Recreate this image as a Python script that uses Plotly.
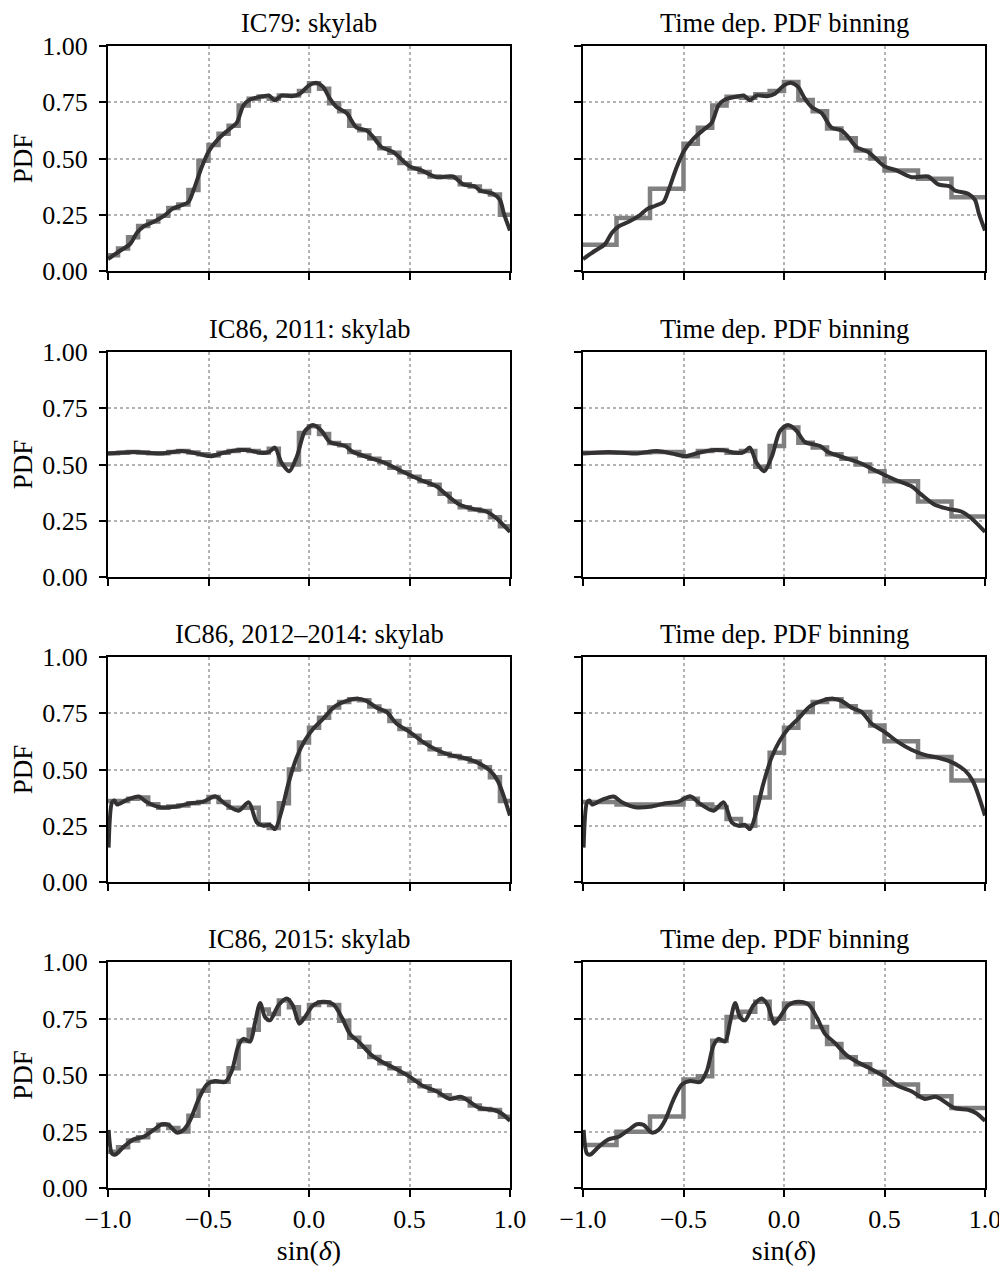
import numpy as np
import plotly.graph_objects as go
from plotly.subplots import make_subplots

# ---------------- data ----------------
titles_left = ["IC79: skylab", "IC86, 2011: skylab", "IC86, 2012\u20132014: skylab", "IC86, 2015: skylab"]
title_right = "Time dep. PDF binning"

x_ticks = [-1.0, -0.5, 0.0, 0.5, 1.0]
y_ticks = [0.0, 0.25, 0.5, 0.75, 1.0]

# fine binning (left column)
fine_edges = [round(-1 + 0.05 * i, 3) for i in range(41)]
# coarse time-dependent binning (right column)
coarse_edges = [-1.0, -0.8333, -0.6667, -0.5, -0.4286, -0.3571, -0.2857, -0.2143, -0.1429,
                -0.0714, 0.0, 0.0714, 0.1429, 0.2143, 0.2857, 0.3571, 0.4286, 0.5,
                0.6667, 0.8333, 1.0]

# Row 1: IC79
line1_x = [-1.0, -0.94, -0.89, -0.856, -0.82, -0.77, -0.72, -0.68, -0.64, -0.6, -0.575, -0.54,
           -0.5, -0.45, -0.4, -0.36, -0.326, -0.293, -0.227, -0.2, -0.17, -0.136, -0.086,
           -0.045, 0.0, 0.038, 0.07, 0.104, 0.137, 0.187, 0.237, 0.286, 0.32, 0.36, 0.419,
           0.5, 0.56, 0.634, 0.717, 0.767, 0.825, 0.85, 0.916, 0.95, 0.97, 1.0]
line1_y = [0.053, 0.09, 0.12, 0.17, 0.2, 0.22, 0.246, 0.276, 0.29, 0.306, 0.358, 0.447,
           0.53, 0.588, 0.628, 0.658, 0.736, 0.762, 0.777, 0.78, 0.759, 0.78, 0.777,
           0.788, 0.825, 0.836, 0.818, 0.766, 0.729, 0.702, 0.637, 0.625, 0.595, 0.551, 0.529,
           0.465, 0.447, 0.417, 0.42, 0.385, 0.376, 0.358, 0.343, 0.316, 0.254, 0.18]
fine1 = [0.07, 0.10, 0.15, 0.20, 0.22, 0.245, 0.28, 0.295, 0.36, 0.49,
         0.56, 0.61, 0.645, 0.735, 0.765, 0.775, 0.765, 0.78, 0.78, 0.80,
         0.835, 0.81, 0.745, 0.71, 0.645, 0.625, 0.59, 0.545, 0.525, 0.48,
         0.455, 0.44, 0.42, 0.418, 0.415, 0.385, 0.375, 0.355, 0.34, 0.25]
coarse1 = [0.117, 0.236, 0.365, 0.566, 0.637, 0.736, 0.774, 0.77, 0.785, 0.80,
           0.84, 0.76, 0.71, 0.633, 0.59, 0.536, 0.50, 0.447, 0.41, 0.328]

# Row 2: IC86, 2011
line2_x = [-1.0, -0.873, -0.74, -0.632, -0.558, -0.49, -0.425, -0.343, -0.3, -0.243, -0.2,
           -0.17, -0.136, -0.098, -0.06, -0.02, 0.02, 0.063, 0.104, 0.18, 0.22, 0.3, 0.37,
           0.45, 0.55, 0.634, 0.684, 0.75, 0.816, 0.882, 0.932, 1.0]
line2_y = [0.549, 0.556, 0.549, 0.56, 0.549, 0.537, 0.552, 0.564, 0.563, 0.552, 0.555,
           0.575, 0.507, 0.47, 0.537, 0.649, 0.675, 0.649, 0.6, 0.582, 0.555, 0.53, 0.51,
           0.475, 0.433, 0.403, 0.366, 0.321, 0.303, 0.291, 0.261, 0.2]
fine2 = [0.55, 0.552, 0.555, 0.553, 0.55, 0.55, 0.555, 0.56, 0.553, 0.545,
         0.54, 0.552, 0.56, 0.565, 0.56, 0.553, 0.57, 0.50, 0.50, 0.64,
         0.67, 0.635, 0.595, 0.585, 0.555, 0.54, 0.525, 0.51, 0.485, 0.465,
         0.445, 0.425, 0.41, 0.37, 0.335, 0.31, 0.30, 0.293, 0.265, 0.225]
coarse2 = [0.552, 0.553, 0.555, 0.537, 0.56, 0.564, 0.552, 0.56, 0.49, 0.582,
           0.664, 0.597, 0.575, 0.545, 0.525, 0.50, 0.47, 0.425, 0.336, 0.269]

# Row 3: IC86, 2012-2014
line3_x = [-0.997, -0.98, -0.968, -0.955, -0.906, -0.848, -0.806, -0.74, -0.657, -0.59, -0.525,
           -0.467, -0.417, -0.35, -0.3, -0.26, -0.227, -0.194, -0.169, -0.136, -0.103,
           -0.061, -0.02, 0.022, 0.071, 0.129, 0.187, 0.245, 0.286, 0.336, 0.386, 0.435,
           0.5, 0.568, 0.634, 0.7, 0.767, 0.833, 0.9, 0.94, 1.0]
line3_y = [0.153, 0.354, 0.362, 0.344, 0.365, 0.38, 0.354, 0.332, 0.336, 0.35, 0.357,
           0.381, 0.347, 0.317, 0.354, 0.265, 0.25, 0.254, 0.235, 0.317, 0.436,
           0.555, 0.63, 0.682, 0.726, 0.781, 0.805, 0.815, 0.805, 0.775, 0.756, 0.704,
           0.667, 0.622, 0.588, 0.565, 0.552, 0.533, 0.496, 0.448, 0.295]
fine3 = [0.36, 0.36, 0.37, 0.375, 0.345, 0.33, 0.335, 0.34, 0.35, 0.355,
         0.378, 0.355, 0.33, 0.33, 0.33, 0.255, 0.24, 0.35, 0.50, 0.62,
         0.685, 0.73, 0.775, 0.80, 0.812, 0.808, 0.78, 0.76, 0.715, 0.68,
         0.65, 0.62, 0.59, 0.57, 0.56, 0.55, 0.535, 0.51, 0.465, 0.36]
coarse3 = [0.355, 0.344, 0.344, 0.37, 0.344, 0.332, 0.28, 0.25, 0.376, 0.574,
           0.686, 0.756, 0.80, 0.8125, 0.781, 0.756, 0.696, 0.626, 0.555, 0.451]

# Row 4: IC86, 2015
line4_x = [-0.997, -0.98, -0.964, -0.922, -0.873, -0.823, -0.773, -0.732, -0.699, -0.657,
           -0.624, -0.591, -0.55, -0.508, -0.467, -0.417, -0.384, -0.351, -0.326, -0.293,
           -0.268, -0.243, -0.219, -0.194, -0.152, -0.111, -0.081, -0.048, -0.02, 0.022,
           0.071, 0.121, 0.162, 0.204, 0.253, 0.311, 0.369, 0.419, 0.5, 0.568, 0.634,
           0.7, 0.758, 0.849, 0.916, 0.957, 1.0]
line4_y = [0.257, 0.152, 0.148, 0.182, 0.215, 0.227, 0.257, 0.282, 0.279, 0.245,
           0.257, 0.301, 0.391, 0.458, 0.473, 0.469, 0.518, 0.63, 0.66, 0.648,
           0.734, 0.819, 0.757, 0.742, 0.809, 0.839, 0.809, 0.727, 0.757, 0.809,
           0.824, 0.812, 0.757, 0.682, 0.642, 0.588, 0.555, 0.533, 0.493, 0.451, 0.428,
           0.394, 0.403, 0.354, 0.346, 0.331, 0.297]
fine4 = [0.16, 0.18, 0.21, 0.225, 0.255, 0.28, 0.265, 0.25, 0.32, 0.43,
         0.47, 0.47, 0.53, 0.65, 0.70, 0.79, 0.77, 0.83, 0.80, 0.75,
         0.81, 0.822, 0.81, 0.74, 0.665, 0.625, 0.58, 0.552, 0.53, 0.505,
         0.475, 0.45, 0.43, 0.41, 0.398, 0.395, 0.365, 0.35, 0.345, 0.315]
coarse4 = [0.19, 0.249, 0.316, 0.48, 0.495, 0.652, 0.757, 0.78, 0.824, 0.749,
           0.816, 0.816, 0.712, 0.637, 0.578, 0.548, 0.513, 0.458, 0.406, 0.354]

lines = [(line1_x, line1_y), (line2_x, line2_y), (line3_x, line3_y), (line4_x, line4_y)]
fines = [fine1, fine2, fine3, fine4]
coarses = [coarse1, coarse2, coarse3, coarse4]

# ---------------- figure ----------------
OFF = 8  # default page body margin
W, H = 1007 - OFF, 1266 - OFF
ML, MR, MT, MB = 100, 22, 38, 78
PW, PH = W - ML - MR, H - MT - MB
FONT = "Liberation Serif"
HIST_COLOR = "#808080"
LINE_COLOR = "#333131"

fig = make_subplots(rows=4, cols=2)

def step_xy(edges, vals):
    return list(edges), list(vals) + [vals[-1]]

for r in range(4):
    lx, ly = lines[r]
    for c, hist in ((1, fines[r]), (2, coarses[r])):
        edges = fine_edges if c == 1 else coarse_edges
        sx, sy = step_xy(edges, hist)
        fig.add_trace(go.Scatter(x=sx, y=sy, mode="lines", line_shape="hv",
                                 line=dict(color=HIST_COLOR, width=4.5),
                                 showlegend=False, hoverinfo="skip"), row=r + 1, col=c)
        fig.add_trace(go.Scatter(x=lx, y=ly, mode="lines", line_shape="spline",
                                 line=dict(color=LINE_COLOR, width=4, smoothing=0.8),
                                 showlegend=False, hoverinfo="skip"), row=r + 1, col=c)

# panel boxes in page pixels
col_px = [(108, 510), (583, 985)]
row_px = [(46, 271), (352, 577), (657, 882), (962, 1188)]

def px_x(p):
    return (p - OFF - ML) / PW

def px_y(p):
    return 1 - (p - OFF - MT) / PH

annotations = []
for r in range(4):
    for c in range(2):
        idx = r * 2 + c + 1
        xa = "xaxis" if idx == 1 else f"xaxis{idx}"
        ya = "yaxis" if idx == 1 else f"yaxis{idx}"
        x0, x1 = col_px[c]
        y0, y1 = row_px[r]
        dx = [max(0.0, px_x(x0)), min(1.0, px_x(x1))]
        dy = [max(0.0, px_y(y1)), min(1.0, px_y(y0))]
        common = dict(
            showgrid=True, gridcolor="#b3b3b3", griddash="dot", gridwidth=1.5,
            zeroline=False, showline=True, linecolor="black", linewidth=2, mirror=True,
            ticks="outside", ticklen=7, tickwidth=2, tickcolor="black", automargin=False,
            tickfont=dict(family=FONT, size=26, color="black"),
        )
        fig.layout[xa].update(domain=dx, range=[-1, 1], tickvals=x_ticks,
                              tickformat=".1f", showticklabels=(r == 3), **common)
        fig.layout[ya].update(domain=dy, range=[0, 1], tickvals=y_ticks,
                              tickformat=".2f", showticklabels=(c == 0),
                              ticklabelstandoff=6, **common)
        if c == 0:
            fig.layout[ya].update(title=dict(text="PDF", font=dict(family=FONT, size=27, color="black"),
                                             standoff=9))
        if r == 3:
            fig.layout[xa].update(title=dict(text="sin(<i>δ</i>)", font=dict(family=FONT, size=28, color="black"),
                                             standoff=12))
        title = titles_left[r] if c == 0 else title_right
        annotations.append(dict(text=title, x=px_x((x0 + x1) / 2), y=px_y(y0),
                                xref="paper", yref="paper", xanchor="center", yanchor="bottom",
                                yshift=6, showarrow=False,
                                font=dict(family=FONT, size=26.5, color="black")))

fig.update_layout(width=W, height=H, margin=dict(l=ML, r=MR, t=MT, b=MB, autoexpand=False),
                  paper_bgcolor="white", plot_bgcolor="white",
                  annotations=annotations, showlegend=False)

fig.write_html("out.html")
